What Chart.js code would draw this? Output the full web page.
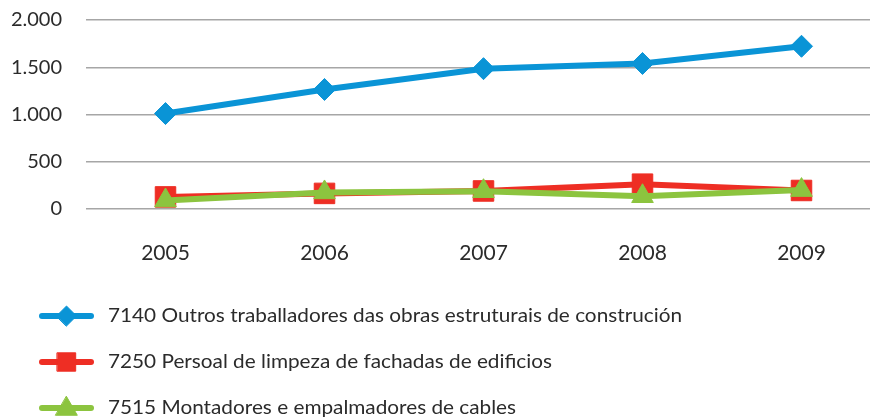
<!DOCTYPE html>
<html>
<head>
<meta charset="utf-8">
<script src="https://cdn.jsdelivr.net/npm/chart.js@4"></script>
<style>
  html, body { margin: 0; padding: 0; background: #fff; }
  #wrap { width: 870px; height: 420px; }
</style>
</head>
<body>
<div id="wrap"><canvas id="myChart" width="870" height="420"></canvas></div>
<script>
// datos leídos do gráfico
var anos = ['2005', '2006', '2007', '2008', '2009'];
var serie7140 = [1010, 1265, 1485, 1540, 1722];
var serie7250 = [128, 165, 191, 263, 196];
var serie7515 = [90, 175, 188, 135, 200];
var nomes = [
    '7140 Outros traballadores das obras estruturais de construción',
    '7250 Persoal de limpeza de fachadas de edificios',
    '7515 Montadores e empalmadores de cables'
];
var ticksY = [0, 500, 1000, 1500, 2000];

var azul = '#0a94d6', vermello = '#ee2e24', verde = '#8cc43f';

// área do gráfico fixada como na imaxe orixinal
var areaPlugin = {
    id: 'areaFixa',
    afterLayout: function (chart) {
        var a = chart.chartArea, x = chart.scales.x, y = chart.scales.y;
        a.left = 86; a.right = 881; a.top = 20; a.bottom = 209;
        a.width = a.right - a.left; a.height = a.bottom - a.top;
        x.left = a.left; x.right = a.right; x.width = a.width;
        x.top = a.bottom; x.bottom = 420; x.height = 420 - a.bottom;
        y.left = 0; y.right = a.left; y.width = a.left;
        y.top = a.top; y.bottom = a.bottom; y.height = a.height;
        x.configure();
        y.configure();
    }
};

// lenda vertical debaixo do gráfico
var lendaPlugin = {
    id: 'lendaVertical',
    afterDraw: function (chart) {
        var ctx = chart.ctx;
        var fonte = '20px Lato, "Open Sans", sans-serif';
        ctx.save();
        ctx.font = fonte;
        var escala = 574 / ctx.measureText(nomes[0]).width;
        ctx.restore();
        var raios = { rectRot: 10, rect: 13, triangle: 12.5 };
        chart.data.datasets.forEach(function (ds, i) {
            var y = 316 + i * 46;
            ctx.save();
            ctx.strokeStyle = ds.borderColor;
            ctx.lineWidth = 6;
            ctx.lineCap = 'round';
            ctx.beginPath();
            ctx.moveTo(42, y);
            ctx.lineTo(91, y);
            ctx.stroke();
            ctx.fillStyle = ds.backgroundColor;
            ctx.strokeStyle = ds.borderColor;
            ctx.lineWidth = 1;
            Chart.helpers.drawPoint(ctx, {
                pointStyle: ds.pointStyle,
                radius: raios[ds.pointStyle],
                borderWidth: 1,
                rotation: 0
            }, 66.5, ds.pointStyle === 'triangle' ? y + 1 : y);
            ctx.fillStyle = '#2b2b2b';
            ctx.font = fonte;
            ctx.textBaseline = 'middle';
            ctx.translate(108, y);
            ctx.scale(escala, 1);
            ctx.fillText(ds.label, 0, 0);
            ctx.restore();
        });
    }
};

var ctx = document.getElementById('myChart').getContext('2d');
var chart = new Chart(ctx, {
    type: 'line',
    data: {
        labels: anos,
        datasets: [{
            label: nomes[0],
            data: serie7140,
            borderColor: azul,
            backgroundColor: azul,
            borderWidth: 6,
            pointStyle: 'rectRot',
            pointRadius: 11,
            pointBorderWidth: 1,
            order: 0
        }, {
            label: nomes[1],
            data: serie7250,
            borderColor: vermello,
            backgroundColor: vermello,
            borderWidth: 6,
            pointStyle: 'rect',
            pointRadius: 14.5,
            pointBorderWidth: 1,
            order: 2
        }, {
            label: nomes[2],
            data: serie7515,
            borderColor: verde,
            backgroundColor: verde,
            borderWidth: 6,
            pointStyle: 'triangle',
            pointRadius: 12.5,
            pointBorderWidth: 1,
            order: 1
        }]
    },
    options: {
        responsive: false,
        animation: false,
        plugins: {
            legend: { display: false },
            tooltip: { enabled: false }
        },
        scales: {
            x: {
                offset: true,
                grid: { display: false, drawTicks: false },
                border: { display: false },
                ticks: {
                    padding: 32,
                    color: '#2b2b2b',
                    font: { family: 'Lato, "Open Sans", sans-serif', size: 21 }
                },
                afterFit: function (axis) { axis.height = 211; }
            },
            y: {
                min: 0,
                max: 2000,
                afterBuildTicks: function (axis) {
                    axis.ticks = ticksY.map(function (v) { return { value: v }; });
                },
                grid: { color: '#a6a6a6', lineWidth: 1.5, drawTicks: false },
                border: { display: false },
                ticks: {
                    padding: 24,
                    color: '#2b2b2b',
                    font: { family: 'Lato, "Open Sans", sans-serif', size: 20 },
                    callback: function (v) {
                        return String(v).replace(/\B(?=(\d{3})+(?!\d))/g, '.');
                    }
                },
                afterFit: function (axis) { axis.width = 86; }
            }
        }
    },
    plugins: [areaPlugin, lendaPlugin]
});
</script>
</body>
</html>
